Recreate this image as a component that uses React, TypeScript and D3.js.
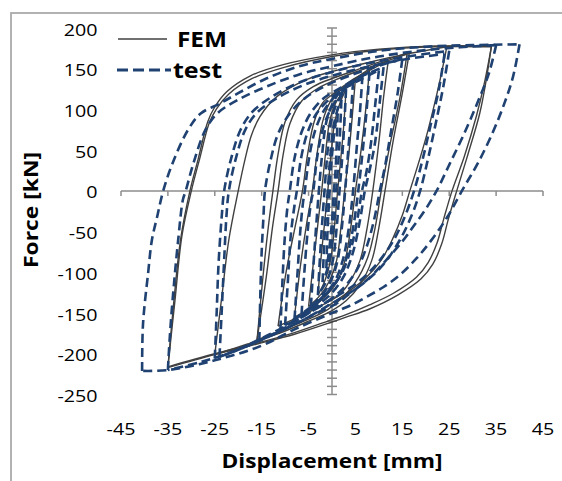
import React from 'react';
import * as d3 from 'd3';

type P = [number, number];

const xTickValues = [-45, -35, -25, -15, -5, 5, 15, 25, 35, 45];
const yTickValues = [200, 150, 100, 50, 0, -50, -100, -150, -200, -250];
const seriesNames = ['FEM', 'test'];

// ---------- FEM (solid) branches: [displacement mm, force kN] ----------
const fem35DownA: P[] = [[34,178],[33,140],[31.5,95],[29,45],[26.6,0],[24.8,-35],[23.4,-65],[21.5,-90],[19,-108],[14,-128],[8,-145],[3,-155],[0,-161],[-8,-176],[-16,-188],[-25,-201],[-35,-217]];
const fem35UpA: P[] = [[-35,-217],[-33.8,-140],[-32.3,-60],[-30.3,0],[-28.5,40],[-26.5,85],[-25,103],[-22.4,122],[-17.5,141],[-10.4,155],[0,167],[10,174],[22,178],[34,178]];
const fem35DownB: P[] = [[34,177],[32.6,135],[30.8,92],[28.2,42],[25.6,0],[23.8,-35],[22.4,-64],[20.5,-88],[18,-106],[13,-126],[8,-140],[3,-152],[0,-158],[-8,-174],[-16,-187],[-25,-200],[-35,-216]];
const fem35UpB: P[] = [[-35,-216],[-33.5,-135],[-32,-55],[-30,0],[-28.2,40],[-26.2,83],[-24.6,101],[-22,119],[-17,138],[-10,152],[0,165],[10,173],[22,177],[34,177]];
const fem25Down: P[] = [[24.5,177],[23,135],[20.5,75],[18.5,35],[16.6,0],[15,-30],[13,-58],[10.5,-85],[7,-108],[3,-126],[0,-138],[-5,-155],[-12,-175],[-18,-188],[-25,-201]];
const fem25Up: P[] = [[-25,-201],[-23.5,-130],[-22,-60],[-20,0],[-18.5,40],[-17.2,68],[-15.4,91],[-11.7,116],[-5.3,137],[1,148],[8,158],[15,167],[24.5,177]];
const fem16DownA: P[] = [[16.5,170],[15,120],[13,60],[11.3,0],[10,-45],[8.5,-85],[6,-115],[3,-135],[0,-147],[-5,-160],[-10,-172],[-16,-184]];
const fem16UpA: P[] = [[-16,-184],[-14.8,-110],[-13.7,-50],[-12.6,0],[-11.5,45],[-10,85],[-7.5,112],[-4,128],[0,138],[5,148],[10,158],[16.5,170]];
const fem16DownB: P[] = [[16,168],[14.5,115],[12.3,55],[10.5,0],[9.2,-45],[7.6,-82],[5,-112],[2,-132],[-1,-146],[-6,-160],[-11,-172],[-16,-183]];
const fem16UpB: P[] = [[-16,-183],[-14,-105],[-12.7,-45],[-11.5,0],[-10.4,45],[-9,82],[-6.5,110],[-3,126],[1,137],[6,148],[11,158],[16,168]];
const fem11Down: P[] = [[12,160],[11,115],[10,60],[8.7,0],[7.5,-45],[6,-85],[4,-110],[1.5,-128],[-2,-140],[-6,-152],[-11.5,-166]];
const fem11Up: P[] = [[-11.5,-166],[-9.8,-100],[-7.9,-45],[-6.3,0],[-5.2,45],[-3.8,85],[-2,108],[1,122],[4,135],[8,148],[12,160]];
const fem7Down: P[] = [[8,150],[7.2,100],[6.2,50],[5,0],[4,-45],[2.8,-85],[1,-112],[-1.5,-130],[-4,-142],[-8,-155]];
const fem7Up: P[] = [[-8,-155],[-6.8,-95],[-5.4,-40],[-4.2,0],[-3.2,45],[-2,85],[-0.5,108],[1.5,122],[4.5,136],[8,150]];
const fem4Down: P[] = [[5,138],[4.3,90],[3.5,40],[2.7,0],[1.9,-45],[1,-85],[-0.5,-110],[-2.5,-128],[-5,-142]];
const fem4Up: P[] = [[-5,-142],[-4,-90],[-3,-40],[-2.2,0],[-1.4,45],[-0.5,85],[0.8,108],[2.8,125],[5,138]];
const fem2Down: P[] = [[3,125],[2.5,80],[1.8,35],[1.2,0],[0.5,-45],[-0.3,-85],[-1.5,-110],[-3,-128]];
const fem2Up: P[] = [[-3,-128],[-2.3,-80],[-1.5,-35],[-0.9,0],[-0.2,45],[0.6,85],[1.7,108],[3,125]];

// ---------- test (dashed) branches ----------
const test40Down: P[] = [[40,180],[38.6,140],[36.8,108],[34.3,72],[31.2,35],[28,3],[24.5,-33],[21,-62],[18,-83],[14.5,-103],[11,-118],[7.4,-130],[3.8,-141],[0,-150],[-8,-170],[-15,-190],[-25,-208],[-35,-220],[-40.5,-221]];
const test40Up: P[] = [[-40.5,-221],[-40.3,-163],[-39.2,-100],[-38.4,-60],[-37.3,-32],[-36,0],[-34,34],[-30.7,75],[-28,95],[-24,107],[-20,120],[-14,138],[-7,153],[0,162],[10,172],[20,177],[30,179],[40,180]];
const test35Down: P[] = [[35,179],[33.5,145],[31,108],[28,68],[25,32],[22.3,0],[19.8,-24],[17.3,-44],[15,-62],[11.7,-84],[8.1,-106],[3.8,-126],[1,-138],[-5,-155],[-12,-175],[-20,-195],[-28,-210],[-35,-220]];
const test35Up: P[] = [[-35,-220],[-34.6,-180],[-34,-134],[-32.8,-60],[-31.8,-11],[-31.2,0],[-29.5,35],[-27,75],[-24.5,95],[-20,112],[-14,128],[-7,143],[0,153],[10,165],[22,174],[35,179]];
const test25DownA: P[] = [[25,172],[23.8,130],[22.2,85],[20.5,40],[18.8,0],[17,-30],[14.5,-60],[11,-90],[7,-112],[3,-128],[0,-138],[-6,-158],[-14,-180],[-20,-195],[-25,-206]];
const test25UpA: P[] = [[-25,-206],[-24.6,-150],[-24.2,-90],[-23.5,-30],[-23,0],[-21.5,40],[-19.5,75],[-17,97],[-13,115],[-7,133],[0,146],[8,157],[16,165],[25,172]];
const test25DownB: P[] = [[24,168],[22.8,125],[21,80],[19.3,38],[17.5,0],[15.5,-32],[13,-62],[9.5,-90],[6,-110],[2,-126],[-1,-136],[-7,-157],[-14,-178],[-19,-192],[-24,-204]];
const test25UpB: P[] = [[-24,-204],[-23.5,-145],[-23,-85],[-22.5,-30],[-22,0],[-20.5,40],[-18.5,75],[-16,96],[-12,113],[-6,130],[1,143],[9,154],[16,162],[24,168]];
const test15Down: P[] = [[15,162],[14,120],[12.5,70],[11.3,30],[10.2,0],[9,-35],[7.3,-70],[5,-100],[2,-122],[-1,-136],[-5,-150],[-10,-168],[-15.5,-184]];
const test15Up: P[] = [[-15.5,-184],[-15.3,-130],[-15,-75],[-14.6,-30],[-14.3,0],[-13,40],[-11.5,70],[-9,95],[-5.5,115],[-1,130],[4,142],[9,152],[15,162]];
const test10DownA: P[] = [[11,152],[10.2,110],[9.2,60],[8,25],[7,0],[6,-35],[4.5,-75],[2.5,-105],[0,-125],[-3,-140],[-7,-155],[-11,-170]];
const test10UpA: P[] = [[-11,-170],[-10.6,-115],[-10.1,-60],[-9.5,-20],[-9,0],[-8,40],[-6.5,72],[-4.5,96],[-1.5,115],[2,127],[6,140],[11,152]];
const test10DownB: P[] = [[10,148],[9.2,105],[8.3,58],[7.3,22],[6.4,0],[5.4,-35],[4,-72],[2,-102],[-0.5,-122],[-3.5,-138],[-7,-153],[-10,-165]];
const test10UpB: P[] = [[-10,-165],[-9.4,-110],[-8.8,-55],[-8,-18],[-7.5,0],[-6.6,40],[-5.2,72],[-3.3,95],[-0.5,113],[2.8,126],[6.5,138],[10,148]];
const test8Down: P[] = [[8,146],[7.4,100],[6.6,52],[5.6,0],[4.6,-42],[3.2,-80],[1.3,-108],[-1.5,-128],[-4.5,-145],[-8,-158]];
const test8Up: P[] = [[-8,-158],[-7.4,-105],[-6.8,-52],[-6.2,-15],[-5.8,0],[-4.9,40],[-3.6,74],[-1.8,98],[0.8,117],[4,132],[8,146]];
const test6Down: P[] = [[6.5,142],[6,100],[5.3,55],[4.5,0],[3.6,-45],[2.3,-85],[0.5,-112],[-2,-130],[-4,-142],[-6.5,-152]];
const test6Up: P[] = [[-6.5,-152],[-5.9,-100],[-5.2,-50],[-4.5,-15],[-4,0],[-3.2,40],[-2,75],[-0.3,100],[2,120],[4.5,133],[6.5,142]];
const test4Down: P[] = [[4.5,135],[4,90],[3.4,45],[2.8,0],[2.1,-45],[1.2,-85],[-0.2,-110],[-2,-127],[-4.5,-142]];
const test4Up: P[] = [[-4.5,-142],[-4,-95],[-3.4,-45],[-2.8,0],[-2.1,45],[-1.2,85],[0.2,108],[2,124],[4.5,135]];
const test3Down: P[] = [[3,125],[2.6,80],[2.1,35],[1.6,0],[1,-45],[0.2,-85],[-0.9,-108],[-3,-128]];
const test3Up: P[] = [[-3,-128],[-2.6,-85],[-2.1,-40],[-1.6,0],[-1,45],[-0.2,85],[0.9,106],[3,125]];
const test2Down: P[] = [[2,112],[1.7,70],[1.3,30],[0.9,0],[0.4,-40],[-0.3,-78],[-1.2,-100],[-2,-112]];
const test2Up: P[] = [[-2,-112],[-1.7,-70],[-1.3,-30],[-0.9,0],[-0.4,40],[0.3,78],[1.2,100],[2,112]];
const test1Down: P[] = [[1.2,95],[1,55],[0.7,20],[0.4,0],[0.1,-30],[-0.4,-62],[-0.9,-85],[-1.2,-95]];
const test1Up: P[] = [[-1.2,-95],[-1,-55],[-0.7,-20],[-0.5,0],[-0.2,30],[0.3,62],[0.8,85],[1.2,95]];

const femBranches: P[][] = [
  fem35DownA, fem35UpA, fem35DownB, fem35UpB, fem25Down, fem25Up,
  fem16DownA, fem16UpA, fem16DownB, fem16UpB, fem11Down, fem11Up,
  fem7Down, fem7Up, fem4Down, fem4Up, fem2Down, fem2Up,
];
const testBranches: P[][] = [
  test40Down, test40Up, test35Down, test35Up, test25DownA, test25UpA,
  test25DownB, test25UpB, test15Down, test15Up, test10DownA, test10UpA,
  test10DownB, test10UpB, test8Down, test8Up, test6Down, test6Up,
  test4Down, test4Up, test3Down, test3Up, test2Down, test2Up,
  test1Down, test1Up,
];

const FONT = "'Open Sans', 'DejaVu Sans', sans-serif";
const FEM_COLOR = '#404040';
const TEST_COLOR = '#1F4272';
const AXIS_COLOR = '#8c8c8c';

export default function App() {
  const x = d3.scaleLinear().domain([-45, 45]).range([121, 543]);
  const y = d3.scaleLinear().domain([-250, 200]).range([394.5, 28]);
  const line = d3
    .line<P>()
    .x((d) => x(d[0]))
    .y((d) => y(d[1]))
    .curve(d3.curveCatmullRom.alpha(0.5));

  const minorY = d3.range(-250, 201, 10);

  return (
    <svg
      width={562}
      height={481}
      style={{ position: 'absolute', left: 0, top: 0, background: '#fff' }}
    >
      <rect x={0} y={0} width={562} height={481} fill="#fff" />
      {/* chart frame */}
      <rect x={11} y={13} width={600} height={500} fill="none" stroke="#a8a8a8" strokeWidth={1.75} />

      {/* horizontal axis at F = 0 */}
      <line x1={x(-45)} x2={x(45)} y1={y(0)} y2={y(0)} stroke={AXIS_COLOR} strokeWidth={1.5} />
      {xTickValues.map((v) => (
        <line key={'xt' + v} x1={x(v)} x2={x(v)} y1={y(0)} y2={y(0) + 5} stroke={AXIS_COLOR} strokeWidth={1.5} />
      ))}
      {/* vertical axis at d = 0 */}
      <line x1={x(0)} x2={x(0)} y1={y(200)} y2={y(-250)} stroke={AXIS_COLOR} strokeWidth={1.5} />
      {minorY.map((v) => (
        <line key={'yt' + v} x1={x(0) - 5} x2={x(0) + 5} y1={y(v)} y2={y(v)} stroke={AXIS_COLOR} strokeWidth={1.5} />
      ))}

      {/* series */}
      <g fill="none" stroke={FEM_COLOR} strokeWidth={1.4}>
        {femBranches.map((b, i) => (
          <path key={'f' + i} d={line(b) || ''} />
        ))}
      </g>
      <g fill="none" stroke={TEST_COLOR} strokeWidth={2.6} strokeDasharray="9 5">
        {testBranches.map((b, i) => (
          <path key={'t' + i} d={line(b) || ''} />
        ))}
      </g>

      {/* tick labels */}
      <g fontFamily={FONT} fontSize={16.4} fill="#000">
        {yTickValues.map((v) => (
          <text key={'yl' + v} textAnchor="end" transform={`translate(97.5,${y(v) + 7.6}) scale(1.2,1)`}>
            {v}
          </text>
        ))}
        {xTickValues.map((v) => (
          <text key={'xl' + v} textAnchor="middle" transform={`translate(${x(v)},435) scale(1.2,1)`}>
            {v}
          </text>
        ))}
      </g>

      {/* axis titles */}
      <text x={332} y={468} textAnchor="middle" fontFamily={FONT} fontWeight="bold" fontSize={20}
        textLength={221} lengthAdjust="spacingAndGlyphs">
        Displacement [mm]
      </text>
      <text transform="translate(38,210) rotate(-90)" textAnchor="middle" fontFamily={FONT} fontWeight="bold"
        fontSize={19} textLength={116} lengthAdjust="spacingAndGlyphs">
        Force [kN]
      </text>

      {/* legend */}
      <line x1={118} x2={167} y1={39} y2={39} stroke={FEM_COLOR} strokeWidth={1.5} />
      <text x={177} y={46.7} fontFamily={FONT} fontWeight="bold" fontSize={21} textLength={50}
        lengthAdjust="spacingAndGlyphs">
        {seriesNames[0]}
      </text>
      <line x1={117} x2={171} y1={70} y2={70} stroke={TEST_COLOR} strokeWidth={2.8} strokeDasharray="11 5" />
      <text x={173} y={78.3} fontFamily={FONT} fontWeight="bold" fontSize={21} textLength={49}
        lengthAdjust="spacingAndGlyphs">
        {seriesNames[1]}
      </text>
    </svg>
  );
}
